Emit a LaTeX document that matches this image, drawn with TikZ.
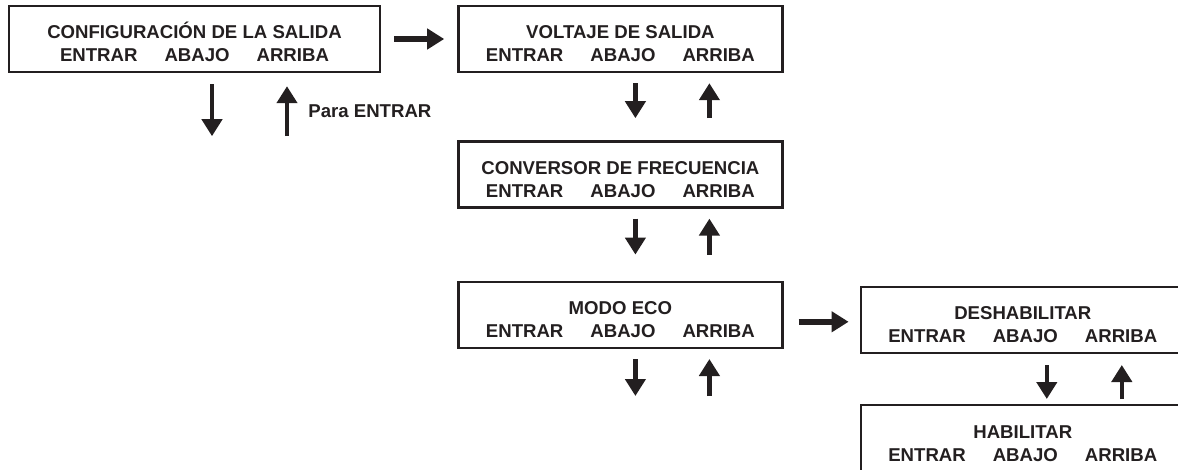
\documentclass[tikz,border=0pt]{standalone}
\usepackage{fontspec}
\setmainfont{Liberation Sans}
\usepackage{tikz}
\usetikzlibrary{arrows.meta, positioning}
\definecolor{tinta}{RGB}{35, 31, 32}
\newcommand{\menutexto}[1]{\rule{0pt}{11.5pt}#1\\ENTRAR\hspace{13.5pt}ABAJO\hspace{13.5pt}ARRIBA}

\begin{document}
\begin{tikzpicture}[
        node distance=33.5pt and 38pt,
        menu/.style={rectangle, draw=tinta, line width=1.2pt, text=tinta, minimum width=162pt, minimum height=33pt, inner sep=0pt, align=center, font=\bfseries\fontsize{9.3}{11.5}\selectfont},
        nota/.style={text=tinta, inner sep=0pt, font=\bfseries\fontsize{9.3}{11}\selectfont},
        harrow/.style={-{Triangle[width=10pt, length=8.5pt]}, line width=3pt, draw=tinta},
        varrow/.style={-{Triangle[width=10pt, length=8.5pt]}, line width=2.2pt, draw=tinta}
    ]
        \useasboundingbox (0,0) rectangle (589pt,-235pt);
        \clip (0,0) rectangle (589pt,-235pt);

        \node[menu, minimum width=185.5pt] (config) at (97.25pt,-19.5pt) {\menutexto{CONFIGURACIÓN DE LA SALIDA}};
        \node[menu, right=of config] (voltaje) {\menutexto{VOLTAJE DE SALIDA}};
        \node[menu, below=of voltaje] (conversor) {\menutexto{CONVERSOR DE FRECUENCIA}};
        \node[menu, below=36pt of conversor] (eco) {\menutexto{MODO ECO}};
        \node[menu, right=of eco, yshift=-2.5pt] (deshab) {\menutexto{DESHABILITAR}};
        \node[menu, below=25pt of deshab] (habil) {\menutexto{HABILITAR}};

        % free ends below the open menus
        \coordinate (cfgabajo) at ([xshift=8.75pt,yshift=-31.5pt]config.south);
        \coordinate (cfgarriba) at ([xshift=46.25pt,yshift=-31.5pt]config.south);
        \coordinate (ecoabajo) at ([xshift=7.5pt,yshift=-23.5pt]eco.south);
        \coordinate (ecoarriba) at ([xshift=44.5pt,yshift=-23.5pt]eco.south);
        \node[nota, anchor=west] (para) at ([xshift=56.75pt,yshift=-19pt]config.south) {Para ENTRAR};

        \draw[harrow] ([xshift=6.5pt]config.east) -- ([xshift=-6.5pt]voltaje.west);
        \draw[harrow] ([shift={(7.5pt,-3.5pt)}]eco.east) -- ([shift={(-5.5pt,-1pt)}]deshab.west);

        \draw[varrow] ([xshift=8.75pt,yshift=-5.5pt]config.south) -- (cfgabajo);
        \draw[varrow] (cfgarriba) -- ([xshift=46.25pt,yshift=-6.5pt]config.south);

        \draw[varrow] ([xshift=7.5pt,yshift=-5pt]voltaje.south) -- ([xshift=7.5pt,yshift=11pt]conversor.north);
        \draw[varrow] ([xshift=44.5pt,yshift=11pt]conversor.north) -- ([xshift=44.5pt,yshift=-5pt]voltaje.south);

        \draw[varrow] ([xshift=7.5pt,yshift=-5pt]conversor.south) -- ([xshift=7.5pt,yshift=13pt]eco.north);
        \draw[varrow] ([xshift=44.5pt,yshift=13pt]eco.north) -- ([xshift=44.5pt,yshift=-5pt]conversor.south);

        \draw[varrow] ([xshift=7.5pt,yshift=-5pt]eco.south) -- (ecoabajo);
        \draw[varrow] (ecoarriba) -- ([xshift=44.5pt,yshift=-5pt]eco.south);

        \draw[varrow] ([xshift=12pt,yshift=-5.5pt]deshab.south) -- ([xshift=12pt,yshift=2.5pt]habil.north);
        \draw[varrow] ([xshift=49.5pt,yshift=2.5pt]habil.north) -- ([xshift=49.5pt,yshift=-5.5pt]deshab.south);
    \end{tikzpicture}
\end{document}
